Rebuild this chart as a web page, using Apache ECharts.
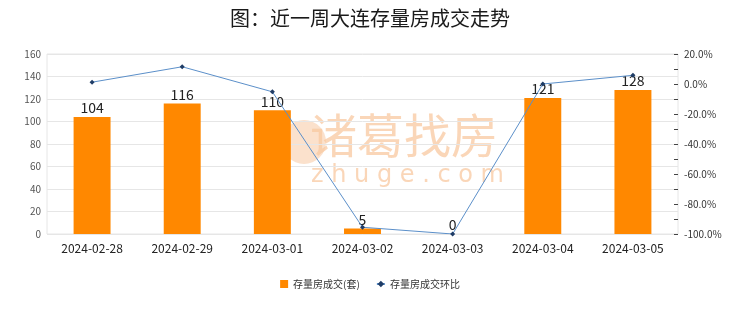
<!DOCTYPE html>
<html><head><meta charset="utf-8">
<script src="https://cdn.jsdelivr.net/npm/echarts@6/dist/echarts.min.js"></script>
<style>html,body{margin:0;padding:0;background:#fff}#c{width:740px;height:312px}</style>
</head><body><div id="c"></div>
<script>
const categories = ['2024-02-28','2024-02-29','2024-03-01','2024-03-02','2024-03-03','2024-03-04','2024-03-05'];
const volume = [104, 116, 110, 5, 0, 121, 128];
const ratio = [1.2, 11.5, -5.2, -95.5, -100, 0, 5.8];
const leftTicks = {min: 0, max: 160, interval: 20};
const rightTicks = {min: -100, max: 20, interval: 10};

const chart = echarts.init(document.getElementById('c'), null, {renderer: 'canvas'});
const font = '"Noto Sans CJK SC", "Noto Sans", sans-serif';
chart.setOption({
  animation: false,
  textStyle: {fontFamily: font},
  title: {text: '图：近一周大连存量房成交走势', left: 'center', top: 3,
    textStyle: {fontSize: 20, fontWeight: 'normal', color: '#1a1a1a', fontFamily: font}},
  graphic: [
    {type: 'circle', left: 282, top: 120, z: -1, shape: {r: 22}, style: {fill: 'rgba(248,205,170,0.6)'}},
    {type: 'text', left: 310, top: 112, z: -1, style: {text: '诸葛找房', font: '47px "Noto Sans CJK SC"', fill: 'rgba(248,200,160,0.75)'}},
    {type: 'text', left: 311, top: 164, z: -1, style: {text: 'z h u g e . c o m', font: '24px "DejaVu Sans"', fill: 'rgba(248,200,160,0.75)'}}
  ],
  legend: {bottom: 18, left: 'center', itemWidth: 8, itemHeight: 8, itemGap: 16,
    textStyle: {fontSize: 10, color: '#333'},
    data: [{name: '存量房成交(套)', icon: 'rect'}, {name: '存量房成交环比'}]},
  grid: {left: 47, right: 62, top: 54, bottom: 78, show: true, borderColor: '#e6e6e6', borderWidth: 1},
  xAxis: {type: 'category', data: categories,
    axisLine: {show: false}, axisTick: {show: false},
    axisLabel: {fontSize: 12, color: '#222', margin: 8}},
  yAxis: [
    {type: 'value', min: leftTicks.min, max: leftTicks.max, interval: leftTicks.interval,
      axisLine: {show: false}, axisTick: {show: false},
      axisLabel: {fontSize: 10, color: '#555', margin: 6},
      splitLine: {lineStyle: {color: '#e6e6e6'}}},
    {type: 'value', min: rightTicks.min, max: rightTicks.max, interval: rightTicks.interval,
      position: 'right',
      axisLine: {show: false},
      axisTick: {show: true, inside: true, length: 4, lineStyle: {color: '#444'}},
      axisLabel: {fontSize: 10, color: '#333', margin: 6,
        formatter: v => (Math.round(v) % 20 === 0 ? v.toFixed(1) + '%' : '')},
      splitLine: {show: false}}
  ],
  series: [
    {name: '存量房成交(套)', type: 'bar', data: volume, barWidth: '41%', z: 2,
      itemStyle: {color: '#FF8800'},
      label: {show: true, position: 'top', fontSize: 14, color: '#222', distance: 2}},
    {name: '存量房成交环比', type: 'line', yAxisIndex: 1, data: ratio, z: 3,
      symbol: 'diamond', symbolSize: 5,
      lineStyle: {color: '#5b8fc9', width: 1},
      itemStyle: {color: '#1f3c66'}}
  ]
});
</script></body></html>
